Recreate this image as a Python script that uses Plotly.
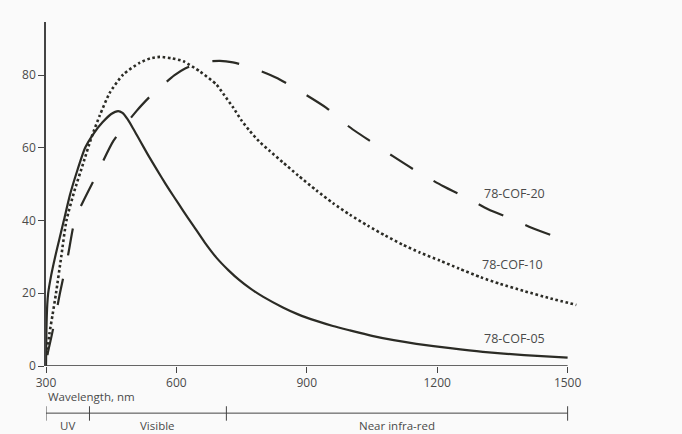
import plotly.graph_objects as go

# ---- data ----
cof05_x = [300, 301, 303, 305, 312, 321, 331, 341, 355, 370, 390, 410, 430, 450, 466, 476, 488, 500, 516,
           535, 555, 575, 595, 616, 640, 665, 692, 720, 745, 769, 800, 845, 880, 922, 960, 999, 1050, 1100,
           1152, 1230, 1305, 1400, 1500]
cof05_y = [0, 10, 17, 20, 25, 30, 35, 40, 47, 53, 60, 64, 67, 69.3, 70.1, 69.6, 67.8, 65.4, 62.0,
           58.0, 54.0, 50.1, 46.4, 42.6, 38.4, 34.0, 29.8, 26.3, 23.6, 21.4, 19.0, 16.1, 14.2, 12.4, 11.0,
           9.8, 8.3, 7.1, 6.1, 4.9, 3.9, 3.0, 2.3]

cof10_x = [302, 308, 315, 323, 335, 347, 365, 385, 405, 424, 447, 478, 516, 540, 562, 590, 616, 654,
           692, 710, 731, 750, 769, 790, 815, 845, 880, 922, 960, 999, 1040, 1080, 1120, 1160, 1206, 1250,
           1300, 1344, 1400, 1460, 1520]
cof10_y = [3, 9, 14, 20, 30, 40, 48, 55.5, 63, 69, 75.2, 80.2, 83.4, 84.6, 85, 84.6, 83.8, 81,
           77.4, 74.5, 71, 67.5, 64.6, 61.8, 59.1, 56.0, 52.4, 48.3, 44.8, 41.6, 38.6, 35.9, 33.4, 31.2, 29.0,
           26.8, 24.4, 22.6, 20.6, 18.6, 16.8]

cof20_x = [303, 316, 332, 350, 366, 386, 416, 455, 508, 540, 570, 595, 620, 645, 670, 700, 730, 760, 784,
           830, 891, 945, 995, 1045, 1098, 1152, 1213, 1275, 1317, 1382, 1417, 1474]
cof20_y = [3, 10, 20, 30, 40, 45.4, 52.5, 61.9, 70.1, 74.2, 77.4, 79.9, 81.8, 83.0, 83.7, 83.9, 83.5, 82.6,
           81.6, 79.3, 75.1, 71, 66, 61.9, 57.7, 53.6, 49.5, 45.8, 43.1, 39.9, 38, 35.5]

series_names = ["78-COF-05", "78-COF-10", "78-COF-20"]
label_x = [1378, 1374, 1378]
label_y = [7.5, 28.0, 47.4]

x_ticks = [300, 600, 900, 1200, 1500]
y_ticks = [0, 20, 40, 60, 80]

region_edges = [300, 400, 715, 1500]
region_names = ["UV", "Visible", "Near infra-red"]

# ---- style ----
INK = "#2b2b25"
TXT = "#4a4a4a"
FONT = "Open Sans"

fig = go.Figure()
fig.add_trace(go.Scatter(x=cof05_x, y=cof05_y, mode="lines", name=series_names[0],
                         line=dict(color=INK, width=2.2, shape="spline", smoothing=0.6)))
fig.add_trace(go.Scatter(x=cof10_x, y=cof10_y, mode="lines", name=series_names[1],
                         line=dict(color=INK, width=2.6, dash="2.6px,2.6px", shape="spline", smoothing=0.6)))
fig.add_trace(go.Scatter(x=cof20_x, y=cof20_y, mode="lines", name=series_names[2],
                         line=dict(color=INK, width=2.2, dash="27px,24px", shape="spline", smoothing=0.6)))

for name, lx, ly in zip(series_names, label_x, label_y):
    fig.add_annotation(x=lx, y=ly, xref="x", yref="y", text=name, showarrow=False,
                       font=dict(family=FONT, size=12.5, color=TXT))

# x axis line from 300 to 1500
fig.add_shape(type="line", xref="x", yref="y", x0=x_ticks[0], x1=x_ticks[-1], y0=0, y1=0,
              line=dict(color="#333", width=1.6))

# wavelength region bar below the axis
bar_y = -0.137
fig.add_shape(type="line", xref="x", yref="paper", x0=region_edges[0], x1=region_edges[-1],
              y0=bar_y, y1=bar_y, line=dict(color="#444", width=1))
for e in region_edges:
    fig.add_shape(type="line", xref="x", yref="paper", x0=e, x1=e, y0=bar_y + 0.02, y1=bar_y - 0.022,
                  line=dict(color="#444", width=1))
for i, nm in enumerate(region_names):
    fig.add_annotation(x=(region_edges[i] + region_edges[i + 1]) / 2, y=-0.172, xref="x", yref="paper",
                       text=nm, showarrow=False, font=dict(family=FONT, size=11.5, color=TXT),
                       yanchor="middle")
fig.add_annotation(x=region_edges[0], y=-0.09, xref="x", yref="paper", text="Wavelength, nm",
                   showarrow=False, xanchor="left", yanchor="middle",
                   font=dict(family=FONT, size=11.5, color=TXT))

fig.update_layout(
    width=682, height=434,
    margin=dict(l=46, r=97, t=22, b=68),
    paper_bgcolor="#fafafa", plot_bgcolor="#fafafa",
    showlegend=False,
    xaxis=dict(range=[300, 1540], tickvals=x_ticks, ticktext=[str(v) for v in x_ticks],
               ticks="outside", ticklen=6, tickcolor="#444", showline=False, showgrid=False,
               zeroline=False, tickfont=dict(family=FONT, size=12, color=TXT)),
    yaxis=dict(range=[0, 94.6], tickvals=y_ticks, ticks="outside", ticklen=6, tickcolor="#444",
               showline=True, linecolor="#444", linewidth=1.6, showgrid=False, zeroline=False,
               tickfont=dict(family=FONT, size=12, color=TXT)),
)

fig.write_html("out.html",
               config={"displayModeBar": False},
               post_script="document.body.style.margin='0px';document.body.style.overflow='hidden';"
                           "document.body.style.background='#fafafa';")
